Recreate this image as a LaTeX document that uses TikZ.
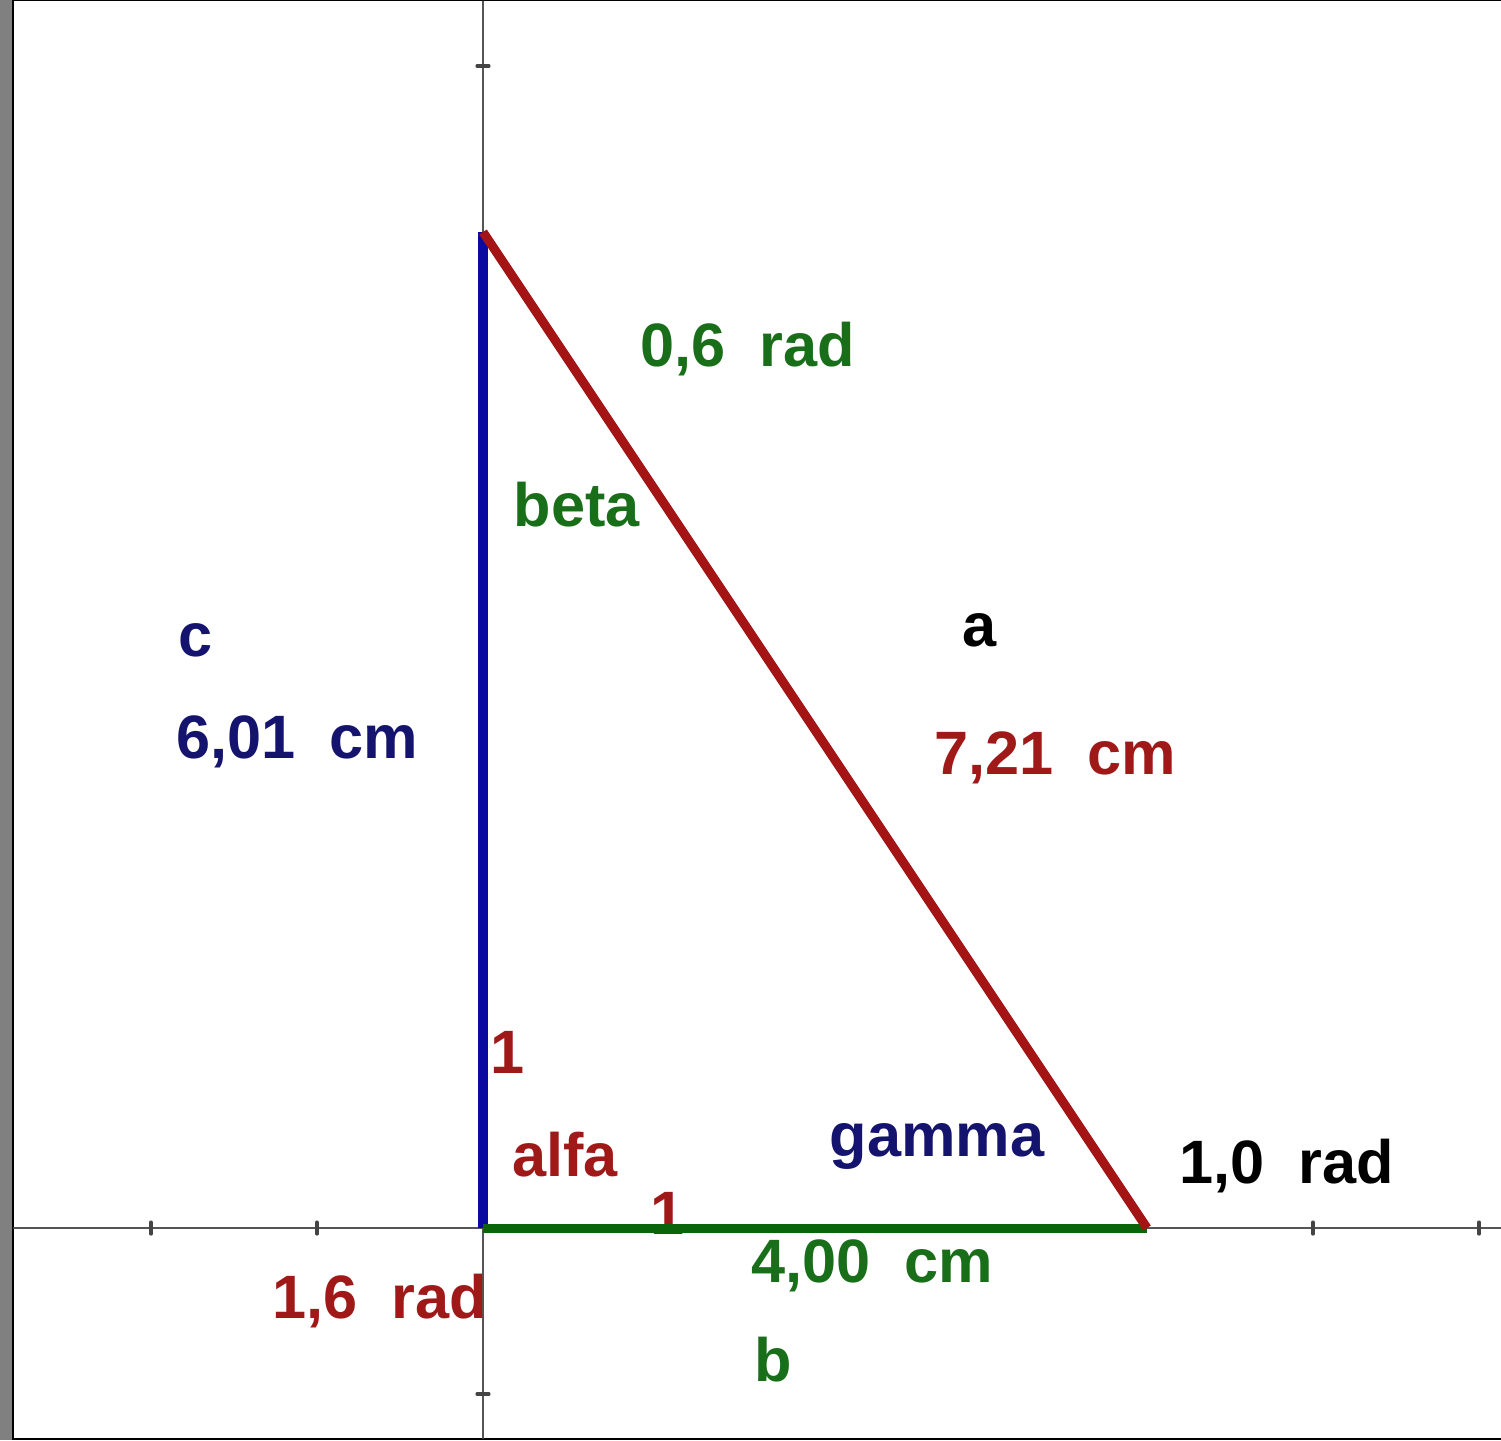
\documentclass[tikz,border=0pt]{standalone}
\usepackage{fontspec}
\setmainfont{Liberation Sans}
\definecolor{sidered}{RGB}{165,20,20}
\definecolor{sideblue}{RGB}{10,10,160}
\definecolor{sidegreen}{RGB}{10,100,10}
\definecolor{txtred}{RGB}{160,25,25}
\definecolor{txtblue}{RGB}{20,20,110}
\definecolor{txtgreen}{RGB}{25,110,25}
\definecolor{axisgray}{RGB}{85,85,85}

\begin{document}
\begin{tikzpicture}[x=1cm, y=1cm, line cap=round, line join=round,
    lbl/.style={font=\bfseries\fontsize{10.5}{12}\selectfont, inner sep=0pt},
    axis/.style={draw=axisgray, line width=0.4pt},
    tick/.style={draw=axisgray!80!black, line width=0.6pt},
    side/.style={line width=1.55pt, line cap=butt}]
  % Canvas: 1 unit = one grid step (origin at the right angle)
  \useasboundingbox (-2.9096,-1.2771) rectangle (6.1325,7.3976);
  \fill[white] (-2.9096,-1.2771) rectangle (6.1325,7.3976);
  \fill[gray] (-2.9096,-1.2771) rectangle (-2.8373,7.3976);
  \fill[black] (-2.8373,-1.2771) rectangle (-2.825,7.3976);
  \fill[black] (-2.8373,7.3886) rectangle (6.1325,7.3976);
  \fill[black] (-2.8373,-1.2771) rectangle (6.1325,-1.2650);

  % Triangle corners: o=(0,0), a=(0,6), b=(4,0)
  \coordinate (o) at (0, 0);
  \coordinate (a) at (0, 6);
  \coordinate (b) at (4, 0);

  % Axis ends
  \coordinate (xl) at (-2.825, 0);
  \coordinate (xr) at (6.1325, 0);
  \coordinate (yb) at (0, -1.265);
  \coordinate (yt) at (0, 7.3886);

  \draw[axis] (xl) -- (xr);
  \draw[axis] (yb) -- (yt);
  \foreach \x in {-2, -1, 5, 6} \draw[tick] (\x, -0.035) -- (\x, 0.035);
  \foreach \y in {-1, 7} \draw[tick] (-0.035, \y) -- (0.035, \y);

  % Unit marks
  \node[lbl, text=txtred] (uy) at (0.145, 1.06) {1};
  \node[lbl, text=txtred] (ux) at (1.114, 0.09) {1};

  % Sides
  \draw[side, sideblue] (o) -- (a);
  \draw[side, sidegreen] (o) -- (b);
  \draw[side, sidered] (a) -- (b);

  % Side labels
  \node[lbl, text=txtblue] (cname) at (-1.729, 3.542) {c};
  \node[lbl, text=txtblue] (clen) at (-1.120, 2.93) {6,01\ \ cm};
  \node[lbl] (aname) at (2.994, 3.602) {a};
  \node[lbl, text=txtred] (alen) at (3.446, 2.83) {7,21\ \ cm};
  \node[lbl, text=txtgreen] (blen) at (2.343, -0.23) {4,00\ \ cm};
  \node[lbl, text=txtgreen] (bname) at (1.747, -0.795) {b};

  % Angle labels
  \node[lbl, text=txtgreen] (beta) at (0.566, 4.355) {beta};
  \node[lbl, text=txtgreen] (betaval) at (1.596, 5.295) {0,6\ \ rad};
  \node[lbl, text=txtred] (alfa) at (0.494, 0.44) {alfa};
  \node[lbl, text=txtred] (alfaval) at (-0.620, -0.44) {1,6\ \ rad};
  \node[lbl, text=txtblue] (gamma) at (2.735, 0.49) {gamma};
  \node[lbl] (gammaval) at (4.843, 0.375) {1,0\ \ rad};
\end{tikzpicture}
\end{document}
